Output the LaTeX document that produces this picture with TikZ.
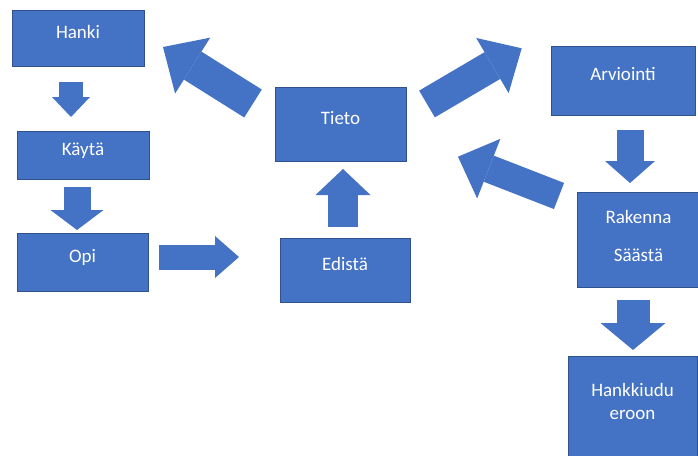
\documentclass[tikz,border=0pt]{standalone}
\usepackage{fontspec}
\setmainfont{Carlito}
\usepackage{tikz}
\usetikzlibrary{arrows.meta}

\definecolor{boxblue}{HTML}{4472C4}
\definecolor{boxline}{HTML}{2F528F}

\begin{document}
\begin{tikzpicture}[x=1pt, y=-1pt,
    box/.style={draw=boxline, line width=1pt, fill=boxblue, text=white, inner sep=0pt, align=center,
        font=\fontsize{19}{23}\selectfont, text height=12pt, text depth=12pt},
    fat/.style n args={3}{draw=boxblue, line width=#1, -{Triangle[width=#2, length=#3, line width=0pt]}}
]
    \useasboundingbox (0,0) rectangle (698,455);

    % Left column
    \node[box, minimum width=132pt, minimum height=56pt] (hanki) at (78,38) {Hanki};
    \node[box, minimum width=132pt, minimum height=48pt] (kayta) at (83,155) {Käytä};
    \node[box, minimum width=131pt, minimum height=58pt] (opi) at (82.5,262) {Opi};

    % Middle
    \node[box, minimum width=131pt, minimum height=74pt] (tieto) at (340.5,124) {Tieto};
    \node[box, minimum width=130pt, minimum height=64pt] (edista) at (345,270) {Edistä};

    % Right column
    \node[box, minimum width=144pt, minimum height=69pt] (arviointi) at (623,80.5) {Arviointi};
    \node[box, minimum width=123pt, minimum height=95pt, text height=55pt] (rakenna) at (638.5,240) {Rakenna\\[15pt]Säästä};
    \node[box, minimum width=129pt, minimum height=104pt, text height=35pt] (hankkiudu) at (632.5,408) {Hankkiudu\\eroon};

    % Arrow ends
    \coordinate (hk-s) at (71,82);      \coordinate (hk-e) at (71,117);
    \coordinate (ko-s) at (77,187);     \coordinate (ko-e) at (77,230);
    \coordinate (oe-s) at (159,257);    \coordinate (oe-e) at (239,257);
    \coordinate (et-s) at (343,227);    \coordinate (et-e) at (343,169);
    \coordinate (th-s) at (253,103.5);  \coordinate (th-e) at (163,47);
    \coordinate (ta-s) at (427,104);    \coordinate (ta-e) at (521.7,48.3);
    \coordinate (rt-s) at (559,196);    \coordinate (rt-e) at (458,156.7);
    \coordinate (ar-s) at (630,130);    \coordinate (ar-e) at (630,183);
    \coordinate (rh-s) at (633,300);    \coordinate (rh-e) at (633,350);

    % Block arrows
    \draw[fat={24pt}{38pt}{20pt}] (hk-s) -- (hk-e);
    \draw[fat={27pt}{53pt}{20pt}] (ko-s) -- (ko-e);
    \draw[fat={25pt}{42pt}{24pt}] (oe-s) -- (oe-e);
    \draw[fat={30pt}{55pt}{26pt}] (et-s) -- (et-e);
    \draw[fat={33pt}{66pt}{35pt}] (th-s) -- (th-e);
    \draw[fat={31pt}{64pt}{34pt}] (ta-s) -- (ta-e);
    \draw[fat={28pt}{64pt}{33pt}] (rt-s) -- (rt-e);
    \draw[fat={27pt}{50pt}{22pt}] (ar-s) -- (ar-e);
    \draw[fat={33pt}{65pt}{27pt}] (rh-s) -- (rh-e);
\end{tikzpicture}
\end{document}
